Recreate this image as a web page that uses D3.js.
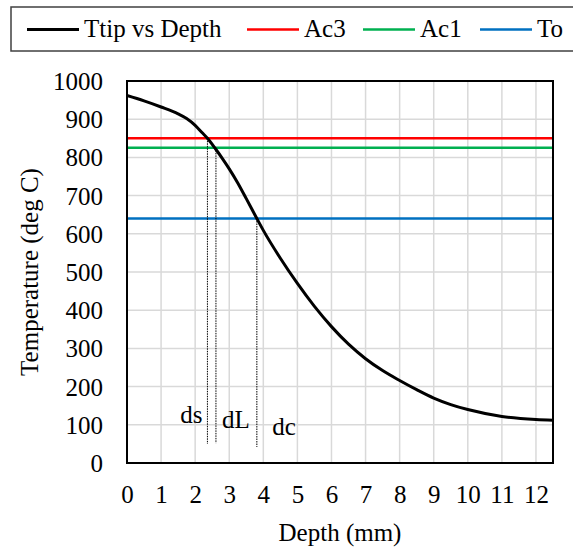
<!DOCTYPE html>
<html>
<head>
<meta charset="utf-8">
<script src="https://cdn.jsdelivr.net/npm/d3@7/dist/d3.min.js"></script>
<style>
  body { margin: 0; background: #fff; }
  svg { display: block; }
  text { font-family: "Liberation Serif", "Times New Roman", serif; fill: #000; }
</style>
</head>
<body>
<svg id="chart" width="573" height="554"></svg>
<script>
// ---- data ----
const depth = [0, 0.5, 1, 1.5, 1.75, 2, 2.2, 2.36, 2.6, 2.8, 3, 3.25, 3.5, 3.81, 4, 4.5, 5, 5.5, 6, 6.5, 7, 7.5, 8, 8.5, 9, 9.5, 10, 11, 12, 12.5];
const ttip  = [962, 948, 932, 914, 902, 884, 865, 850, 822, 797, 770, 733, 692, 640, 609, 536, 470, 410, 357, 311, 273, 242, 216, 192, 170, 153, 140, 122, 114, 112];

const refNames  = ["Ac3", "Ac1", "To"];
const refValues = [850, 825, 640];
const refColors = ["#ff0000", "#00b050", "#0070c0"];

const legendNames  = ["Ttip vs Depth", "Ac3", "Ac1", "To"];
const legendColors = ["#000000", "#ff0000", "#00b050", "#0070c0"];

const xTicks = [0,1,2,3,4,5,6,7,8,9,10,11,12];
const yTicks = [0,100,200,300,400,500,600,700,800,900,1000];

// dotted drop lines: depth, top temp, bottom temp
const dropDepth = [2.36, 2.61, 3.81];
const dropTop   = [850, 825, 640];
const dropBot   = [50, 52, 42];

// annotation labels: text, depth (left edge), temperature (baseline)
const annText  = ["ds", "dL", "dc"];
const annDepth = [1.56, 2.79, 4.26];
const annTemp  = [105, 92, 73];

// ---- layout ----
const svg = d3.select("#chart");
const L = 127, R = 553, T = 81, B = 463;
const FS = 25;
const x = d3.scaleLinear().domain([0, 12.5]).range([L, R]);
const y = d3.scaleLinear().domain([0, 1000]).range([B, T]);

svg.append("rect").attr("width", 573).attr("height", 554).attr("fill", "#fff");

// gridlines
const grid = svg.append("g");
grid.selectAll(".gx").data(xTicks.filter(d => d > 0)).enter().append("line")
  .attr("x1", d => x(d)).attr("x2", d => x(d)).attr("y1", T).attr("y2", B)
  .attr("stroke", "#d9d9d9").attr("stroke-width", 1.5);
grid.selectAll(".gy").data(yTicks.filter(d => d > 0)).enter().append("line")
  .attr("x1", L).attr("x2", R).attr("y1", d => y(d)).attr("y2", d => y(d))
  .attr("stroke", "#d9d9d9").attr("stroke-width", 1.5);

// reference lines
refValues.forEach((v, i) => {
  svg.append("line").attr("x1", L).attr("x2", R).attr("y1", y(v)).attr("y2", y(v))
    .attr("stroke", refColors[i]).attr("stroke-width", 2.5);
});

// drop lines
dropDepth.forEach((d, i) => {
  svg.append("line").attr("x1", x(d)).attr("x2", x(d))
    .attr("y1", y(dropTop[i])).attr("y2", y(dropBot[i]))
    .attr("stroke", "#000").attr("stroke-width", 1).attr("stroke-dasharray", "1.5,1");
});

// curve
const line = d3.line().x((d, i) => x(depth[i])).y((d, i) => y(ttip[i])).curve(d3.curveMonotoneX);
svg.append("path").datum(ttip).attr("d", line).attr("fill", "none")
  .attr("stroke", "#000").attr("stroke-width", 3);

// plot border
svg.append("rect").attr("x", L).attr("y", T).attr("width", R - L).attr("height", B - T)
  .attr("fill", "none").attr("stroke", "#000").attr("stroke-width", 2);

// axes (labels only)
const xAxis = d3.axisBottom(x).tickValues(xTicks).tickSize(0).tickPadding(0).tickFormat(d3.format("d"));
const gx = svg.append("g").attr("transform", `translate(0,${B})`).call(xAxis);
gx.select(".domain").remove();
gx.attr("font-size", FS).attr("font-family", "Liberation Serif");
gx.selectAll("text").attr("font-size", FS).attr("dy", null).attr("y", 40);

const yAxis = d3.axisLeft(y).tickValues(yTicks).tickSize(0).tickPadding(0).tickFormat(d3.format("d"));
const gy = svg.append("g").attr("transform", `translate(${L},0)`).call(yAxis);
gy.select(".domain").remove();
gy.attr("font-size", FS).attr("font-family", "Liberation Serif");
gy.selectAll("text").attr("font-size", FS).attr("x", -24).attr("dy", "0.34em");

// axis titles
svg.append("text").attr("x", (L + R) / 2).attr("y", 541).attr("text-anchor", "middle")
  .attr("font-size", FS).text("Depth (mm)");
svg.append("text").attr("transform", `translate(38,${(T + B) / 2}) rotate(-90)`)
  .attr("text-anchor", "middle").attr("font-size", FS).text("Temperature (deg C)");

// annotations
annText.forEach((t, i) => {
  svg.append("text").attr("x", x(annDepth[i])).attr("y", y(annTemp[i]))
    .attr("font-size", FS).text(t);
});

// legend
svg.append("rect").attr("x", 11).attr("y", 7).attr("width", 620).attr("height", 44)
  .attr("fill", "#fff").attr("stroke", "#404040").attr("stroke-width", 1.5);
const legendX = [27, 247, 363, 480];
legendNames.forEach((n, i) => {
  const lx = legendX[i];
  svg.append("line").attr("x1", lx).attr("x2", lx + 52).attr("y1", 29.5).attr("y2", 29.5)
    .attr("stroke", legendColors[i]).attr("stroke-width", i === 0 ? 3 : 2.5);
  svg.append("text").attr("x", lx + 57).attr("y", 37).attr("font-size", FS).text(n);
});
</script>
</body>
</html>
